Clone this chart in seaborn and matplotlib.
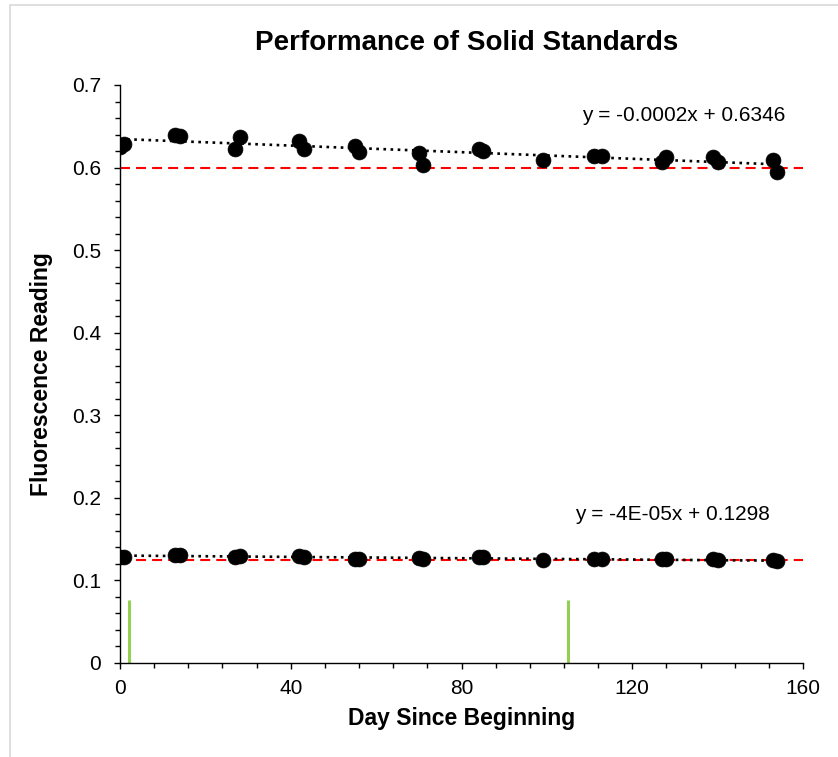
import numpy as np
import pandas as pd
import matplotlib
matplotlib.use("Agg")
import matplotlib.pyplot as plt
from matplotlib.ticker import MultipleLocator, FuncFormatter
from matplotlib.patches import Rectangle
import seaborn as sns

# Readings of the high and low solid standards by day
days = [0, 1, 13, 14, 27, 28, 42, 43, 55, 56, 70, 71, 84, 85, 99,
        111, 113, 127, 128, 139, 140, 153, 154]
high_std = [0.625, 0.629, 0.639, 0.638, 0.623, 0.637, 0.632, 0.622, 0.626, 0.619,
            0.618, 0.603, 0.622, 0.620, 0.609, 0.614, 0.614, 0.607, 0.613,
            0.613, 0.607, 0.609, 0.595]
low_std = [0.128, 0.128, 0.131, 0.130, 0.128, 0.129, 0.129, 0.128, 0.126, 0.126,
           0.127, 0.126, 0.128, 0.128, 0.125, 0.126, 0.126, 0.126, 0.126,
           0.126, 0.125, 0.124, 0.123]

# Linear trend coefficients (slope, intercept)
high_fit = (-0.0002, 0.6346)
low_fit = (-4e-05, 0.1298)
high_eq = "y = -0.0002x + 0.6346"
low_eq = "y = -4E-05x + 0.1298"

# Acceptance limits and event markers
high_limit = 0.6
low_limit = 0.124
event_days = [2, 105]
event_height = 0.076

x_range = (0, 160)

sns.set_style("ticks")
plt.rcParams["font.family"] = ["Liberation Sans", "DejaVu Sans"]
plt.rcParams.update({"text.color": "black", "axes.labelcolor": "black",
                     "xtick.color": "black", "ytick.color": "black"})

fig = plt.figure(figsize=(8.38, 7.57), dpi=100)
ax = fig.add_axes([120 / 838, 1 - 662.7 / 757, 683 / 838, 577.7 / 757])

df = pd.DataFrame({"day": days * 2,
                   "reading": high_std + low_std,
                   "standard": ["high"] * len(days) + ["low"] * len(days)})

# Limit lines
for lim in (high_limit, low_limit):
    ax.plot(x_range, [lim, lim], color="#ff0000", lw=1.5,
            linestyle=(0, (4.8, 2.9)), zorder=1)

# Event markers
ax.vlines(event_days, 0, event_height, color="#92d050", lw=2.2, zorder=2)

# Trend lines across the measured span
xs = np.array([min(days), max(days)])
for slope, icpt in (high_fit, low_fit):
    ax.plot(xs, slope * xs + icpt, color="black", lw=1.9,
            linestyle=(0, (1, 1.7)), zorder=3)

sns.scatterplot(data=df, x="day", y="reading", color="black", s=115,
                edgecolor="black", linewidth=0.5, legend=False, ax=ax, zorder=4)

ax.text(155.8, 0.6636, high_eq, ha="right", va="center", fontsize=15)
ax.text(152.3, 0.180, low_eq, ha="right", va="center", fontsize=15)

ax.set_xlim(*x_range)
ax.set_ylim(0, 0.7)
ax.xaxis.set_major_locator(MultipleLocator(40))
ax.xaxis.set_minor_locator(MultipleLocator(8))
ax.yaxis.set_major_locator(MultipleLocator(0.1))
ax.yaxis.set_minor_locator(MultipleLocator(0.02))
ax.yaxis.set_major_formatter(FuncFormatter(lambda v, p: "0" if abs(v) < 1e-9 else f"{v:g}"))

ax.tick_params(axis="both", which="major", direction="out", length=4, width=1,
               labelsize=15, color="black")
ax.tick_params(axis="y", which="major", pad=9.5)
ax.tick_params(axis="x", which="major", pad=8)
ax.tick_params(axis="both", which="minor", direction="out", length=3.5, width=1,
               color="black")

sns.despine(ax=ax)
for sp in ("left", "bottom"):
    ax.spines[sp].set_color("black")
    ax.spines[sp].set_linewidth(1)

ax.set_xlabel("Day Since Beginning", fontsize=16.5, fontweight="bold", va="center")
ax.xaxis.set_label_coords(0.5, (662.7 - 719) / 577.7)
ax.set_ylabel("Fluorescence Reading", fontsize=16.5, fontweight="bold", va="center")
ax.yaxis.set_label_coords((42 - 120) / 683, 0.5)

fig.text(467 / 838, 1 - 43 / 757, "Performance of Solid Standards",
         ha="center", va="center", fontsize=20, fontweight="bold")

# Light chart-area frame
fig.patches.append(Rectangle((10 / 838, -0.02), 1.0, 1 - 5 / 757 + 0.02,
                             transform=fig.transFigure, fill=False,
                             edgecolor="#d9d9d9", lw=1.2))

fig.savefig("out.png", dpi=100)
